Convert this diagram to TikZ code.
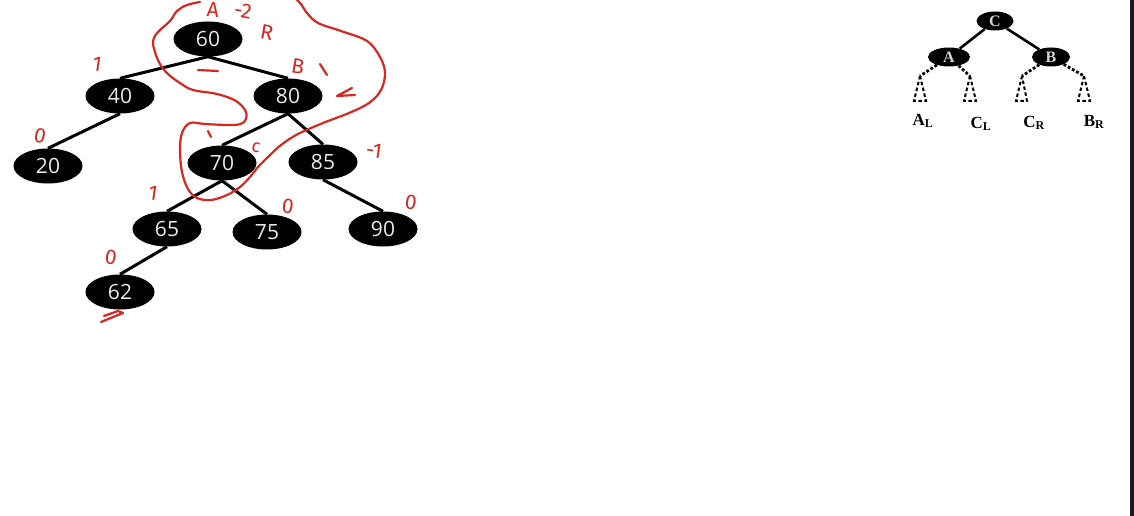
\documentclass[tikz,border=0pt]{standalone}
\usepackage{fontspec}
\setmainfont{Liberation Serif}
\newfontfamily\numfont{Open Sans}
\newfontfamily\handfont{Fira Sans}
\usetikzlibrary{shapes.geometric}
\definecolor{ink}{RGB}{214,40,32}
\definecolor{strip}{RGB}{26,26,34}
\begin{document}
\begin{tikzpicture}[x=1pt,y=-1pt,
  bnode/.style={ellipse, fill=black, minimum width=69pt, minimum height=35pt, inner sep=0pt,
    text=white!92!black, font=\numfont\fontsize{21}{21}\selectfont},
  tedge/.style={line width=3pt},
  snode/.style={ellipse, fill=black, minimum height=19pt, inner sep=0pt,
    text=gray!35, font=\bfseries\fontsize{16}{16}\selectfont},
  sedge/.style={line width=2.6pt},
  dotedge/.style={line width=2.8pt, dotted},
  subtri/.style={line width=2pt, dash pattern=on 3.5pt off 2.5pt},
  sublabel/.style={font=\bfseries\fontsize{17}{17}\selectfont, inner sep=0pt},
  ann/.style={text=ink, font=\handfont\fontsize{21}{21}\selectfont, inner sep=0pt},
  inkline/.style={draw=ink, line width=2.2pt, line cap=round, line join=round}]
\useasboundingbox (0,0) rectangle (1134,516);
\fill[white] (0,0) rectangle (1134,516);
\fill[strip] (1130,0) rectangle (1134,516);

% ---- main tree ----
\node[bnode] (n60) at (208,39) {60};
\node[bnode] (n40) at (120,96) {40};
\node[bnode] (n80) at (288,96) {80};
\node[bnode] (n20) at (48,166) {20};
\node[bnode] (n70) at (222,163) {70};
\node[bnode] (n85) at (323,162) {85};
\node[bnode] (n65) at (167,229) {65};
\node[bnode] (n75) at (267,232) {75};
\node[bnode] (n90) at (383,229) {90};
\node[bnode] (n62) at (120,292) {62};

\draw[tedge] (n60.south) -- (n40.north);
\draw[tedge] (n60.south) -- (n80.north);
\draw[tedge] (n40.south) -- (n20.north);
\draw[tedge] (n80.south) -- (n70.north);
\draw[tedge] (n80.south) -- (n85.north);
\draw[tedge] (n70.south) -- (n65.north);
\draw[tedge] (n70.south) -- (n75.north);
\draw[tedge] (n85.south) -- (n90.north);
\draw[tedge] (n65.south) -- (n62.north);

% ---- small tree ----
\node[snode, minimum width=37pt] (C) at (995,21) {C};
\node[snode, minimum width=42pt] (A) at (949,57) {A};
\node[snode, minimum width=38pt] (B) at (1051,57) {B};
\draw[sedge] (C) -- (A);
\draw[sedge] (C) -- (B);

\coordinate (al) at (920,76);
\coordinate (cl) at (970,76);
\coordinate (cr) at (1022,76);
\coordinate (br) at (1084,76);
\draw[dotedge] (A) -- (al);
\draw[dotedge] (A) -- (cl);
\draw[dotedge] (B) -- (cr);
\draw[dotedge] (B) -- (br);
\draw[subtri] (al) -- (914,101) -- (926,101) -- cycle;
\draw[subtri] (cl) -- (964,101) -- (976,101) -- cycle;
\draw[subtri] (cr) -- (1016,101) -- (1027,101) -- cycle;
\draw[subtri] (br) -- (1078,101) -- (1090,101) -- cycle;
\node[sublabel] (lal) at (923,121) {A\textsubscript{\fontsize{12}{12}\selectfont L}};
\node[sublabel] (lcl) at (981,124) {C\textsubscript{\fontsize{12}{12}\selectfont L}};
\node[sublabel] (lcr) at (1034,123) {C\textsubscript{\fontsize{12}{12}\selectfont R}};
\node[sublabel] (lbr) at (1094,122) {B\textsubscript{\fontsize{12}{12}\selectfont R}};

% ---- red annotations ----
\draw[inkline] plot[smooth, tension=0.6] coordinates {
 (200,2) (187,5) (177,11) (170,21) (158,32) (153,41) (155,52) (160,64) (168,74) (180,83)
 (193,90) (217,94) (236,101) (246,112) (244,122) (233,125) (205,124) (190,123) (182,133)
 (180,150) (182,172) (188,189) (197,198) (211,200) (227,195) (240,187) (250,177) (258,167)
 (268,157) (281,145) (298,134) (323,123) (349,113) (369,103) (381,90) (385,73) (380,57)
 (367,41) (341,31) (318,23) (307,13) (301,4) (296,-1)};
\node[ann, rotate=-5] (tA) at (213,10) {A};
\node[ann, rotate=-10] (tA2) at (243,11) {-2};
\node[ann, rotate=-10] (tR) at (267,32) {R};
\node[ann, rotate=-8] (t40) at (97,64) {1};
\draw[inkline] (198,70) -- (218,71);
\node[ann, rotate=-10] (tB) at (298,66) {B};
\draw[inkline] (320,64) -- (327,75);
\draw[inkline] (352,88) -- (337,96) -- (355,95);
\node[ann, font=\handfont\fontsize{18}{18}\selectfont, rotate=-10] (tc) at (256,148) {c};
\draw[inkline] (208,131) -- (211,137);
\node[ann, rotate=-12] (t20) at (40,136) {0};
\node[ann, rotate=-8] (t85) at (374,151) {-1};
\node[ann, rotate=-8] (t65) at (153,193) {1};
\node[ann, rotate=-8] (t75) at (288,206) {0};
\node[ann, rotate=-8] (t90) at (411,202) {0};
\node[ann, rotate=-8] (t62) at (111,257) {0};
\draw[inkline] (101,322) -- (123,313);
\draw[inkline] (104,316) -- (118,311) -- (123,313);
\end{tikzpicture}
\end{document}
